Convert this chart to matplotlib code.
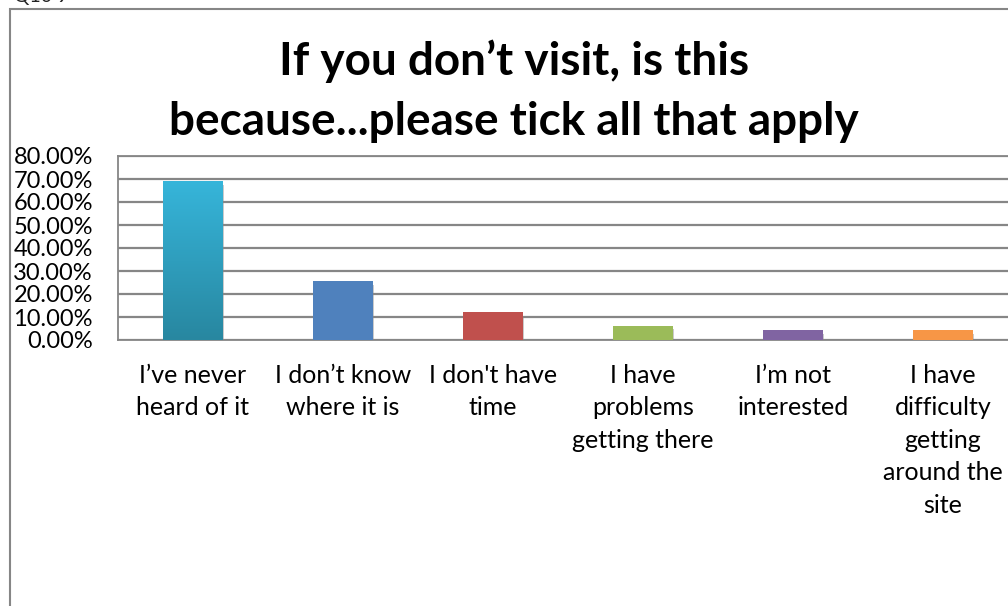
import numpy as np
import matplotlib.pyplot as plt
import matplotlib.patheffects as pe
from matplotlib.patches import Rectangle
from matplotlib.colors import LinearSegmentedColormap

# survey answers (share of respondents)
reasons = [
    "I\u2019ve never\nheard of it",
    "I don\u2019t know\nwhere it is",
    "I don't have\ntime",
    "I have\nproblems\ngetting there",
    "I\u2019m not\ninterested",
    "I have\ndifficulty\ngetting\naround the\nsite",
]
shares = [0.691, 0.256, 0.120, 0.062, 0.042, 0.042]
bar_colors = ["#31A9CC", "#4F81BD", "#C0504D", "#9BBB59", "#8064A2", "#F79646"]
yticks = [0.0, 0.1, 0.2, 0.3, 0.4, 0.5, 0.6, 0.7, 0.8]

plt.rcParams['font.family'] = ['Lato', 'DejaVu Sans']

fig = plt.figure(figsize=(10.08, 6.06), dpi=100)
W, H = 1008, 606

# outer chart frame (runs off the right and bottom edge)
fig.patches.append(Rectangle((10 / W, -0.05), 1.1, 1 - 9 / H + 0.05,
                             transform=fig.transFigure, fill=False,
                             edgecolor="#868686", linewidth=1.5))
fig.text(14 / W, 1 - 2 / H, "Q10 9", fontsize=14, va="baseline", color="#222222")

ax = fig.add_axes([118 / W, 1 - 340 / H, 900 / W, 184 / H])
x = np.arange(len(reasons))
bars = ax.bar(x, shares, width=0.4, color=bar_colors, zorder=3,
              path_effects=[pe.SimplePatchShadow(offset=(0.5, -2.5), shadow_rgbFace="#8a8a8a", alpha=0.45),
                            pe.Normal()])

# first bar gets a vertical gradient fill
b0 = bars[0]
grad = LinearSegmentedColormap.from_list("g", ["#2887A0", "#36B5DA"])
img = ax.imshow(np.linspace(0, 1, 256).reshape(-1, 1), cmap=grad, origin="lower",
                extent=[b0.get_x(), b0.get_x() + b0.get_width(), 0, b0.get_height()],
                aspect="auto", zorder=4)
img.set_clip_path(b0)

ax.set_xlim(-0.5, len(reasons) - 0.5)
ax.set_ylim(0, 0.8)
ax.set_yticks(yticks)
ax.set_yticklabels([f"{v * 100:.2f}%" for v in yticks], fontsize=17)
ax.set_xticks(x)
ax.set_xticklabels(reasons, fontsize=18, linespacing=1.5)
ax.tick_params(axis="both", length=0, colors="black")
ax.tick_params(axis="x", pad=17)
ax.tick_params(axis="y", pad=18)
ax.grid(axis="y", color="#868686", linewidth=1.6, zorder=0)
for side in ["left", "top", "right", "bottom"]:
    ax.spines[side].set_color("#868686")
    ax.spines[side].set_linewidth(1.3)

fig.text(514 / W, 1 - 91 / H, "If you don\u2019t visit, is this\nbecause...please tick all that apply",
         ha="center", va="center", fontsize=33, fontweight="bold", linespacing=1.52)

plt.savefig("out.png", dpi=100)
